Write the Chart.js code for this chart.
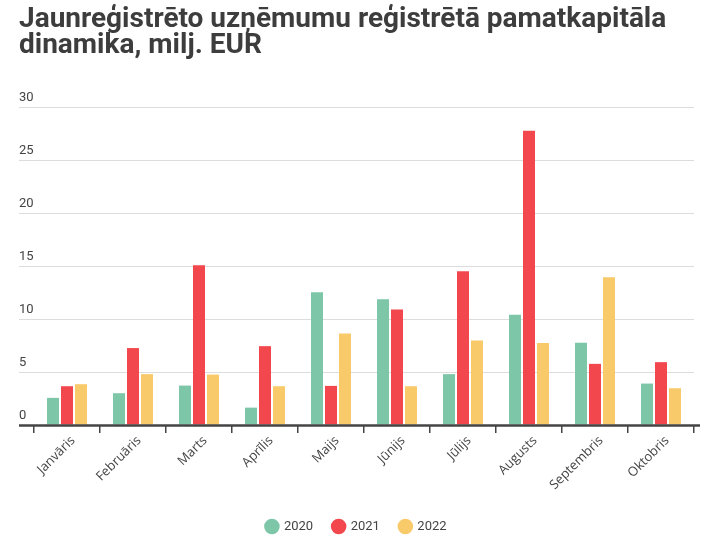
<!DOCTYPE html>
<html lang="lv">
<head>
<meta charset="utf-8">
<title>Pamatkapitāla dinamika</title>
<script src="https://cdn.jsdelivr.net/npm/chart.js@4/dist/chart.umd.min.js"></script>
<style>
  html, body { margin: 0; padding: 0; background: #fff; }
  #chart { display: block; }
</style>
</head>
<body>
<canvas id="chart" width="721" height="547"></canvas>
<script>
// Mēneši un vērtības (milj. EUR)
const months = ['Janvāris', 'Februāris', 'Marts', 'Aprīlis', 'Maijs', 'Jūnijs', 'Jūlijs', 'Augusts', 'Septembris', 'Oktobris'];
const years = ['2020', '2021', '2022'];
const values2020 = [2.56, 3.0, 3.72, 1.64, 12.52, 11.86, 4.8, 10.41, 7.76, 3.91];
const values2021 = [3.66, 7.26, 15.08, 7.44, 3.69, 10.91, 14.51, 27.76, 5.77, 5.93];
const values2022 = [3.85, 4.8, 4.76, 3.66, 8.64, 3.66, 7.98, 7.73, 13.94, 3.47];
const colors = ['#7dc6a8', '#f3474e', '#f9ca6a'];

const textColor = '#444';

// X ass līnija, kas iet nedaudz pāri grafika laukumam
const baselinePlugin = {
    id: 'baseline',
    afterDatasetsDraw(chart) {
        const ctx = chart.ctx;
        const y = chart.scales.y.getPixelForValue(0);
        ctx.save();
        ctx.strokeStyle = '#444';
        ctx.lineWidth = 2.5;
        ctx.beginPath();
        ctx.moveTo(chart.chartArea.left - 15, y + 0.5);
        ctx.lineTo(chart.chartArea.right + 6, y + 0.5);
        ctx.stroke();
        ctx.restore();
    }
};

const ctx = document.getElementById('chart').getContext('2d');
new Chart(ctx, {
    type: 'bar',
    data: {
        labels: months,
        datasets: [
            { label: years[0], data: values2020, backgroundColor: colors[0] },
            { label: years[1], data: values2021, backgroundColor: colors[1] },
            { label: years[2], data: values2022, backgroundColor: colors[2] }
        ]
    },
    options: {
        responsive: false,
        animation: false,
        datasets: {
            bar: {
                categoryPercentage: 0.636,
                barPercentage: 0.857
            }
        },
        layout: {
            padding: { left: 19, right: 27, top: 0, bottom: 4 }
        },
        plugins: {
            title: {
                display: true,
                text: ['Jaunreģistrēto uzņēmumu reģistrētā pamatkapitāla', 'dinamika, milj. EUR'],
                align: 'start',
                color: '#3d3d3d',
                font: { family: 'Roboto', size: 28, weight: 'bold', lineHeight: 0.93 },
                padding: { top: 7, bottom: 48 }
            },
            legend: {
                position: 'bottom',
                labels: {
                    usePointStyle: true,
                    pointStyle: 'circle',
                    boxWidth: 11,
                    boxHeight: 11,
                    padding: 20,
                    color: textColor,
                    font: { family: 'Roboto', size: 13 }
                }
            },
            tooltip: { enabled: false }
        },
        scales: {
            x: {
                offset: true,
                border: { display: false },
                grid: {
                    offset: true,
                    drawOnChartArea: false,
                    drawTicks: true,
                    tickLength: 8,
                    color: '#444',
                    lineWidth: 1.5
                },
                ticks: {
                    color: textColor,
                    font: { family: 'Open Sans', size: 13 },
                    minRotation: 45,
                    maxRotation: 45,
                    padding: 0,
                    labelOffset: 6
                },
                afterFit(scale) {
                    scale.height = 75;
                }
            },
            y: {
                min: 0,
                max: 30,
                border: { display: false },
                grid: {
                    color: '#dcdcdc',
                    lineWidth: 1,
                    drawTicks: true,
                    tickLength: 15
                },
                ticks: {
                    stepSize: 5,
                    mirror: true,
                    padding: -15,
                    labelOffset: -9,
                    color: textColor,
                    font: { family: 'Roboto', size: 13 }
                },
                afterFit(scale) {
                    scale.width = 15;
                }
            }
        }
    },
    plugins: [baselinePlugin]
});
</script>
</body>
</html>
